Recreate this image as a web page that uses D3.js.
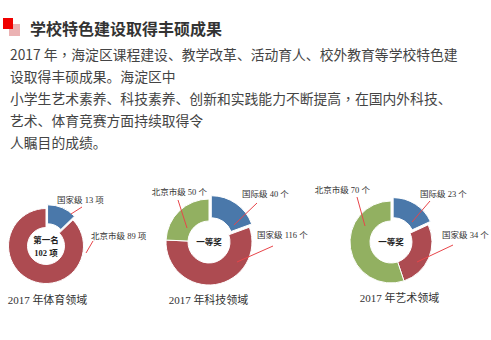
<!DOCTYPE html>
<html><head><meta charset="utf-8">
<script src="https://cdn.jsdelivr.net/npm/d3@7/dist/d3.min.js"></script>
<style>
html,body{margin:0;padding:0;background:#fff;}
svg{display:block;}
</style></head>
<body>
<script>
// ---------- data ----------
const heading = "学校特色建设取得丰硕成果";
const paragraphLines = [
  "2017 年，海淀区课程建设、教学改革、活动育人、校外教育等学校特色建",
  "设取得丰硕成果。海淀区中",
  "小学生艺术素养、科技素养、创新和实践能力不断提高，在国内外科技、",
  "艺术、体育竞赛方面持续取得令",
  "人瞩目的成绩。"
];
const chartTitles = ["2017 年体育领域", "2017 年科技领域", "2017 年艺术领域"];
const centerTexts = [["第一名", "102 项"], ["一等奖"], ["一等奖"]];
const units = ["项", "个", "个"];

const sportsLevels = ["国家级", "北京市级"];
const sportsValues = [13, 89];
const techLevels = ["国际级", "国家级", "北京市级"];
const techValues = [40, 116, 50];
const artLevels = ["国际级", "国家级", "北京市级"];
const artValues = [23, 34, 70];

// ---------- styles / layout ----------
const W = 491, H = 340;
const levelColor = {"国际级": "#4a78aa", "国家级": "#ad4b51", "北京市级": "#92b061"};
const sportsColor = {"国家级": "#4a78aa", "北京市级": "#ad4b51"};
const leaderColor = "#e8454a";
const serif = "'Liberation Serif','DejaVu Serif','Noto Sans CJK SC',serif";
const sans = "'Noto Sans CJK SC','Noto Sans',sans-serif";

const svg = d3.select("body").append("svg").attr("width", W).attr("height", H);

// header
svg.append("rect").attr("x", 9).attr("y", 24).attr("width", 11).attr("height", 12).attr("fill", "#ebb2b3");
svg.append("rect").attr("x", 3).attr("y", 18).attr("width", 10).attr("height", 11).attr("fill", "#f00000");
svg.append("text").attr("x", 30).attr("y", 27.5).attr("dominant-baseline", "central")
  .attr("font-family", sans).attr("font-weight", "bold").attr("font-size", 16).attr("fill", "#333")
  .text(heading);

// paragraph (fullwidth commas drawn centred, as in the reference)
const para = svg.append("g").selectAll("text").data(paragraphLines).join("text")
  .attr("x", 10).attr("y", (d, i) => 54 + i * 22).attr("dominant-baseline", "central")
  .attr("font-family", sans).attr("font-size", 13.8).attr("fill", "#444");
para.each(function(d) {
  const t = d3.select(this);
  d.split(/(，)/).filter(s => s.length).forEach(s => {
    const ts = t.append("tspan").text(s);
    if (s === "，") ts.attr("font-family", "'Noto Sans CJK TC','Noto Sans CJK SC',sans-serif");
  });
});

// chart layouts
const charts = [
  {levels: sportsLevels, values: sportsValues, colors: sportsColor, cx: 46, cy: 246, r: 37.5, ir: 18.5, titleX: 47.5, titleY: 300,
   labels: [ {anchor: "start", tx: 11, ty: -46, l: [25, -32, 36, -39]},
             {anchor: "start", tx: 45, ty: -10, l: [40, 7, 47, -5]} ]},
  {levels: techLevels, values: techValues, colors: levelColor, cx: 209, cy: 242, r: 43, ir: 21, titleX: 208.5, titleY: 300,
   labels: [ {anchor: "start", tx: 33, ty: -48, l: [25, -17, 48, -39]},
             {anchor: "start", tx: 48, ty: -7, l: [28, 20, 64, 4]},
             {anchor: "end", tx: -2, ty: -50, l: [-22, -14, -31, -42]} ]},
  {levels: artLevels, values: artValues, colors: levelColor, cx: 391, cy: 242, r: 41, ir: 21, titleX: 399.5, titleY: 298,
   labels: [ {anchor: "start", tx: 29, ty: -48, l: [21, -20, 39, -41]},
             {anchor: "start", tx: 51, ty: -7, l: [26, 20, 62, 3]},
             {anchor: "end", tx: -21, ty: -52, l: [-26, -16, -34, -45]} ]}
];

const pie = d3.pie().sort(null).startAngle(0).endAngle(2 * Math.PI);

charts.forEach((c, ci) => {
  const g = svg.append("g").attr("transform", `translate(${c.cx},${c.cy})`);
  const arc = d3.arc().innerRadius(c.ir).outerRadius(c.r);
  const arcs = pie(c.values);
  g.selectAll("path").data(arcs).join("path")
    .attr("d", arc)
    .attr("fill", (d, i) => c.colors[c.levels[i]])
    .attr("stroke", "#fff").attr("stroke-width", 1)
    .attr("transform", (d, i) => {
      if (i !== 0) return null;
      const a = (d.startAngle + d.endAngle) / 2, off = 4;
      return `translate(${off * Math.sin(a)},${-off * Math.cos(a)})`;
    });
  // center text
  const ct = centerTexts[ci];
  g.selectAll("text.center").data(ct).join("text").attr("class", "center")
    .attr("x", 0).attr("y", (d, i) => (i - (ct.length - 1) / 2) * 13)
    .attr("text-anchor", "middle").attr("dominant-baseline", "central")
    .attr("font-family", serif).attr("font-weight", "bold").attr("font-size", 8.5).attr("fill", "#222")
    .text(d => d);
  // leaders and labels
  c.labels.forEach((lb, i) => {
    g.append("line").attr("x1", lb.l[0]).attr("y1", lb.l[1]).attr("x2", lb.l[2]).attr("y2", lb.l[3])
      .attr("stroke", leaderColor).attr("stroke-width", 1);
    g.append("text").attr("x", lb.tx).attr("y", lb.ty)
      .attr("text-anchor", lb.anchor).attr("dominant-baseline", "central")
      .attr("font-family", serif).attr("font-size", 8.5).attr("fill", "#333")
      .text(`${c.levels[i]} ${c.values[i]} ${units[ci]}`);
  });
  svg.append("text").attr("x", c.titleX).attr("y", c.titleY)
    .attr("text-anchor", "middle").attr("dominant-baseline", "central")
    .attr("font-family", serif).attr("font-size", 11).attr("fill", "#333")
    .text(chartTitles[ci]);
});
</script>
</body></html>
